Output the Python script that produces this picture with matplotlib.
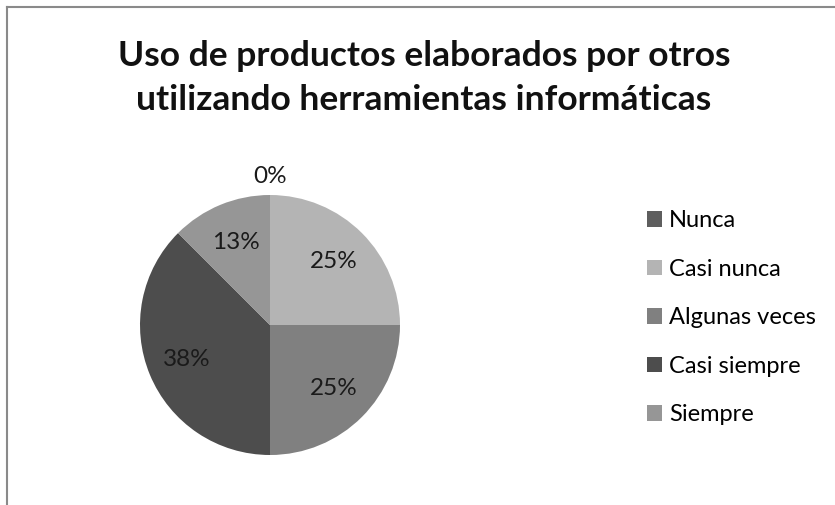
import numpy as np
import matplotlib
matplotlib.use('Agg')
import matplotlib.pyplot as plt
from matplotlib.lines import Line2D

plt.rcParams['font.family'] = ['Lato', 'DejaVu Sans']

# data (slice angles show 37.5 / 12.5, labels rounded)
categorias = ['Nunca', 'Casi nunca', 'Algunas veces', 'Casi siempre', 'Siempre']
porcentajes = [0, 25, 25, 37.5, 12.5]
colores = ['#5e5e5e', '#b4b4b4', '#808080', '#4d4d4d', '#969696']
titulo = 'Uso de productos elaborados por otros\nutilizando herramientas informáticas'

W, H = 835, 505
fig = plt.figure(figsize=(W/100., H/100.), dpi=100)

# chart frame (only top and left edges are visible)
gris = '#8a8a8a'
fig.add_artist(Line2D([6.5/W, 6.5/W], [0, 1-7/H], color=gris, lw=1.5, transform=fig.transFigure))
fig.add_artist(Line2D([6.5/W, 1], [1-7/H, 1-7/H], color=gris, lw=1.5, transform=fig.transFigure))

fig.text(424/W, 1-78/H, titulo, ha='center', va='center', fontsize=25.5,
         fontweight='bold', color='#111111', linespacing=1.5)

cx, cy, R = 270, 325, 130
ax = fig.add_axes([(cx-R)/W, (H-cy-R)/H, 2*R/W, 2*R/H])
wedges, _ = ax.pie(porcentajes, colors=colores, startangle=90, counterclock=False,
                   radius=1, wedgeprops=dict(linewidth=0))
ax.set_xlim(-1, 1)
ax.set_ylim(-1, 1)
ax.set_aspect('equal')
ax.axis('off')

for w, p in zip(wedges, porcentajes):
    ang = np.deg2rad((w.theta1 + w.theta2) / 2.)
    d = 1.14 if p == 0 else 0.69
    ax.text(d*np.cos(ang), d*np.sin(ang), '%d%%' % int(p + 0.5), ha='center', va='center',
            fontsize=17.5, color='#1a1a1a', clip_on=False)

fig.legend(wedges, categorias, loc='upper left', bbox_to_anchor=(647/W, 1-210/H),
           frameon=False, fontsize=17, handlelength=0.64, handleheight=0.64,
           handletextpad=0.3, labelspacing=1.17, borderpad=0, borderaxespad=0)

fig.savefig('out.png', dpi=100)
